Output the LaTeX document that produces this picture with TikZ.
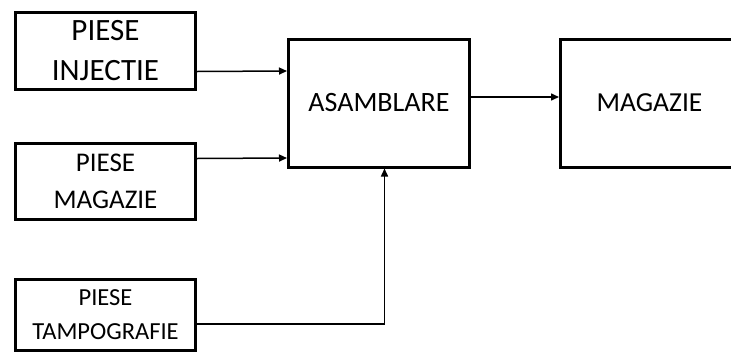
\documentclass[tikz,border=0pt]{standalone}
\usepackage{fontspec}
\setmainfont{Carlito}
\usepackage{tikz}
\usetikzlibrary{positioning, arrows.meta}

\begin{document}
\begin{tikzpicture}[x=1pt, y=-1pt,
          bx/.style={draw, line width=3pt, inner sep=0pt, align=center,
            minimum width=180pt},
          ->/.style={-{Triangle[length=8pt, width=7pt]}, line width=1.5pt}]
        \useasboundingbox (0,0) rectangle (731,354);
        \node[bx, minimum height=77pt, font=\fontsize{31}{40}\selectfont]
          (inj) at (105.5,50.5) {PIESE\\INJECTIE};
        \node[bx, minimum height=76pt, font=\fontsize{27}{37}\selectfont]
          (mgz) at (105.5,181.5) {PIESE\\MAGAZIE};
        \node[bx, minimum height=71pt, font=\fontsize{24.5}{34}\selectfont]
          (tmp) at (105.5,315) {PIESE\\TAMPOGRAFIE};
        \node[bx, minimum width=181pt, minimum height=128pt,
          font=\fontsize{28}{34}\selectfont] (asm) at (379,103) {ASAMBLARE};
        \node[bx, minimum width=178pt, minimum height=128pt,
          font=\fontsize{27.5}{34}\selectfont] (mag) at (649.5,103) {MAGAZIE};
        \draw [->] ([yshift=-21pt]inj.east) to ([yshift=32pt]asm.west);
        \draw [->] ([yshift=23pt]mgz.east) to ([yshift=-55pt]asm.west);
        \draw [->] ([yshift=-9pt]tmp.east) -| ([xshift=5.5pt]asm.south);
        \draw [->] ([yshift=6pt]asm.east) to ([yshift=6pt]mag.west);
      \end{tikzpicture}
\end{document}
